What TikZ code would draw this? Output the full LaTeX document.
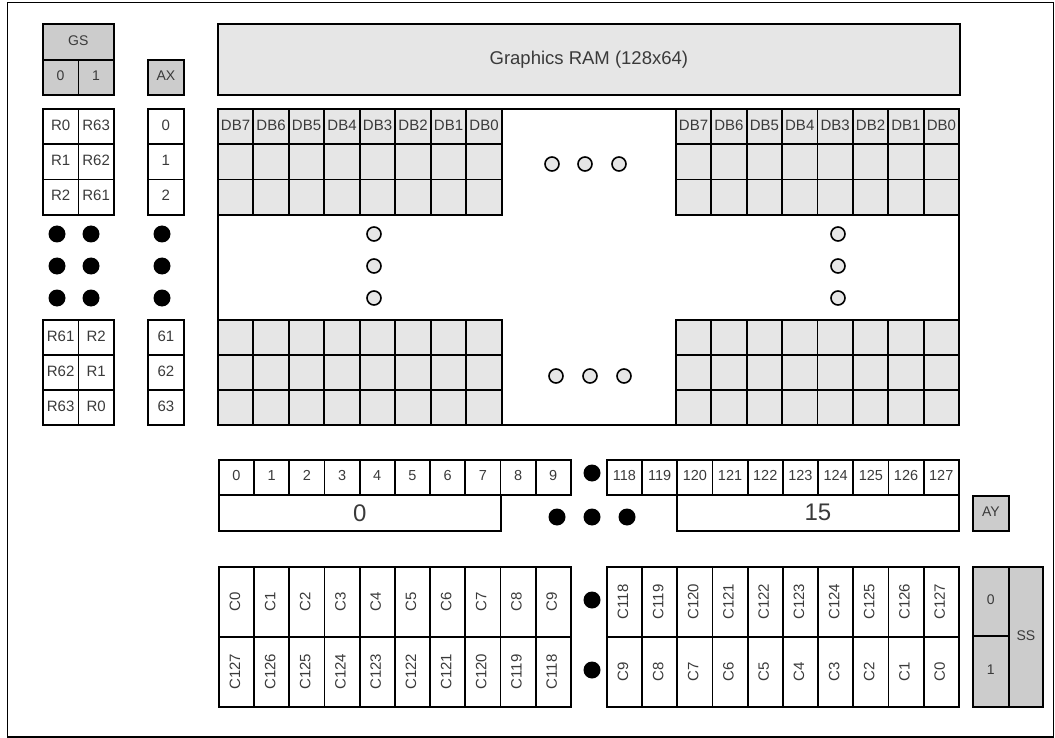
\documentclass[tikz,border=0pt]{standalone}
\usepackage{fontspec}
\setmainfont{Liberation Sans}
\definecolor{txt}{HTML}{3A3A3A}
\definecolor{ramgray}{HTML}{E6E6E6}
\definecolor{regray}{HTML}{CCCCCC}
\begin{document}
\begin{tikzpicture}[x=1pt,y=-1pt,
  box/.style={draw, line width=1.7pt, inner sep=0pt, anchor=north west, text=txt},
  cell/.style={box, font=\fontsize{15}{15}\selectfont, text height=0.72em, text depth=0pt},
  dbcell/.style={cell, fill=ramgray, minimum width=35.4pt, minimum height=35.3pt},
  regcell/.style={cell, fill=regray, font=\fontsize{14}{14}\selectfont},
  rcell/.style={cell, minimum width=35.5pt, minimum height=35.3pt},
  acell/.style={cell, minimum width=35.2pt, minimum height=35pt, font=\fontsize{14.5}{14.5}\selectfont},
  ccell/.style={box, minimum width=35.2pt, minimum height=70pt},
  clab/.style={rotate=90, text=txt, font=\fontsize{15}{15}\selectfont, text height=0.72em, text depth=0pt, inner sep=0pt},
  pagebox/.style={box, font=\fontsize{24}{24}\selectfont},
  dot/.style={circle, fill=black, minimum size=17pt, inner sep=0pt},
  hollow/.style={circle, draw, line width=1.6pt, fill=ramgray, minimum size=14pt, inner sep=0pt}]
\useasboundingbox (0,0) rectangle (1055,738);
\node[draw, line width=1.5pt, minimum width=1046pt, minimum height=734pt, anchor=north west, inner sep=0pt] (frame) at (6.5,2) {};

% GS / AX
\node[regcell, minimum width=71pt, minimum height=36pt] (gs) at (42,23) {GS};
\node[regcell, minimum width=35.5pt, minimum height=35pt] (gs0) at (42,59) {0};
\node[regcell, minimum width=35.5pt, minimum height=35pt] (gs1) at (77.5,59) {1};
\node[regcell, minimum width=36pt, minimum height=35pt] (ax) at (147,59) {AX};

% row tables
\foreach \a/\b [count=\i from 0] in {R0/R63,R1/R62,R2/R61} {
  \node[rcell] (ra\i) at (42,108+\i*35.33) {\a};
  \node[rcell] (rb\i) at (77.5,108+\i*35.33) {\b};
  \node[rcell, minimum width=36pt] (ay\i) at (147,108+\i*35.33) {\i};
}
\foreach \a/\b/\n [count=\i from 0] in {R61/R2/61,R62/R1/62,R63/R0/63} {
  \node[rcell] (rc\i) at (42,319+\i*35.0) {\a};
  \node[rcell] (rd\i) at (77.5,319+\i*35.0) {\b};
  \node[rcell, minimum width=36pt] (az\i) at (147,319+\i*35.0) {\n};
}
\foreach \y [count=\j] in {234,266,298} {
  \node[dot] (dl\j) at (57,\y) {};
  \node[dot] (dm\j) at (91,\y) {};
  \node[dot] (dr\j) at (162,\y) {};
}

% Graphics RAM
\node[box, fill=ramgray, minimum width=742pt, minimum height=71pt, font=\fontsize{18.5}{18.5}\selectfont] (gram) at (217,23) {Graphics RAM (128x64)};
\node[box, minimum width=741pt, minimum height=316pt] (ram) at (217,108) {};
\foreach \c [count=\i from 0] in {7,6,5,4,3,2,1,0} {
  \node[dbcell] (hl\i) at (217+\i*35.5,108) {DB\c};
  \node[dbcell] (hr\i) at (675+\i*35.4,108) {DB\c};
  \foreach \r in {1,2} {
    \node[dbcell] (tl\r-\i) at (217+\i*35.5,108+\r*35.3) {};
    \node[dbcell] (tr\r-\i) at (675+\i*35.4,108+\r*35.3) {};
  }
  \foreach \r in {0,1,2} {
    \node[dbcell] (bl\r-\i) at (217+\i*35.5,319+\r*35) {};
    \node[dbcell] (br\r-\i) at (675+\i*35.4,319+\r*35) {};
  }
}
\foreach \x [count=\j] in {552,585,619} { \node[hollow] (ht\j) at (\x,164) {}; }
\foreach \x [count=\j] in {556,590,624} { \node[hollow] (hb\j) at (\x,376) {}; }
\foreach \y [count=\j] in {234,266,298} {
  \node[hollow] (hvl\j) at (374,\y) {};
  \node[hollow] (hvr\j) at (838,\y) {};
}

% column addresses
\foreach \i in {0,...,9} {
  \node[acell] (cl\i) at (218+\i*35.2,459) {\i};
}
\foreach \n [count=\i from 0] in {118,...,127} {
  \node[acell] (cr\i) at (606+\i*35.2,459) {\n};
}
\node[pagebox, minimum width=282pt, minimum height=36pt] (p0) at (218,494) {0};
\node[pagebox, minimum width=282pt, minimum height=36pt] (p15) at (676,494) {15};
\node[dot] (da) at (592,473) {};
\foreach \x [count=\j] in {557,592,627} { \node[dot] (db\j) at (\x,517) {}; }
\node[regcell, minimum width=36pt, minimum height=35pt] (ayb) at (972,495) {AY};

% segment columns
\foreach \t/\b [count=\i from 0] in {0/127,1/126,2/125,3/124,4/123,5/122,6/121,7/120,8/119,9/118} {
  \node[ccell] (sl\i) at (218+\i*35.2,566) {};
  \node[clab] (slt\i) at (sl\i.center) {C\t};
  \node[ccell] (sm\i) at (218+\i*35.2,636) {};
  \node[clab] (smt\i) at (sm\i.center) {C\b};
}
\foreach \t/\b [count=\i from 0] in {118/9,119/8,120/7,121/6,122/5,123/4,124/3,125/2,126/1,127/0} {
  \node[ccell] (sr\i) at (606+\i*35.2,566) {};
  \node[clab] (srt\i) at (sr\i.center) {C\t};
  \node[ccell] (ss\i) at (606+\i*35.2,636) {};
  \node[clab] (sst\i) at (ss\i.center) {C\b};
}
\node[dot] (dc1) at (592,600) {};
\node[dot] (dc2) at (592,670) {};
\node[regcell, minimum width=36pt, minimum height=69pt] (ss0) at (972,566) {0};
\node[regcell, minimum width=36pt, minimum height=71pt] (ss1) at (972,635) {1};
\node[regcell, minimum width=34pt, minimum height=140pt] (ssl) at (1008,566) {SS};
\end{tikzpicture}
\end{document}
